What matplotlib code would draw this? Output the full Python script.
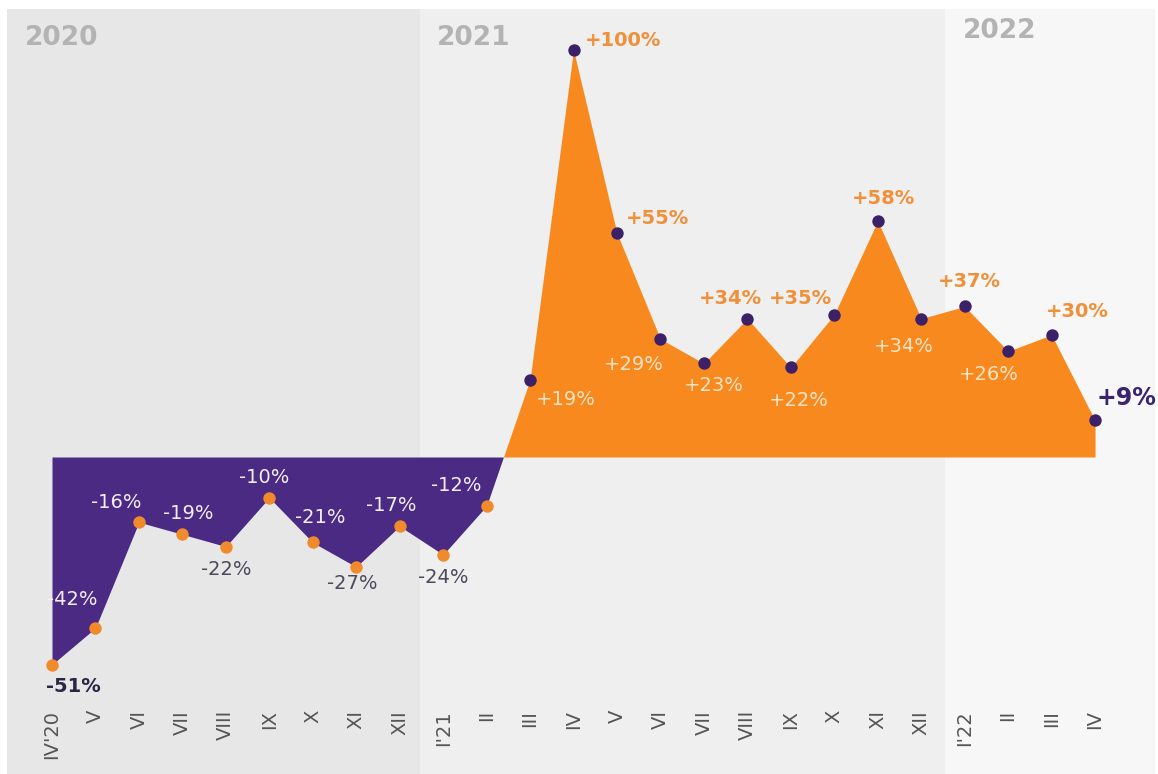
import matplotlib
matplotlib.use("Agg")
import matplotlib.pyplot as plt

# ---------------- data ----------------
months = ["IV'20", "V", "VI", "VII", "VIII", "IX", "X", "XI", "XII",
          "I'21", "II", "III", "IV", "V", "VI", "VII", "VIII", "IX", "X", "XI", "XII",
          "I'22", "II", "III", "IV"]
values = [-51, -42, -16, -19, -22, -10, -21, -27, -17, -24, -12,
          19, 100, 55, 29, 23, 34, 22, 35, 58, 34, 37, 26, 30, 9]
years = ["2020", "2021", "2022"]

# ---------------- layout / styles ----------------
W, H = 1158, 774
fig = plt.figure(figsize=(W / 100, H / 100), dpi=100)
ax = fig.add_axes([0, 0, 1, 1])

x0_pix, dx_pix = 52, 43.46
zero_pix, scale = 457, 4.07
ax.set_xlim(-x0_pix / dx_pix, (W - x0_pix) / dx_pix)
ax.set_ylim(-(H - zero_pix) / scale, zero_pix / scale)

def px_to_x(p):
    return (p - x0_pix) / dx_pix

# year bands
band_edges = [7, 420, 945, 1155]
band_colors = ["#e7e7e7", "#efefef", "#f7f7f7"]
top_frac = 1 - 9 / H
for i in range(3):
    ax.axvspan(px_to_x(band_edges[i]), px_to_x(band_edges[i + 1]),
               ymin=0, ymax=top_frac, color=band_colors[i], lw=0, zorder=0)

# year labels
year_pos = [(25, 38), (437, 38), (963, 31)]
for y, (px, py) in zip(years, year_pos):
    fig.text(px / W, 1 - py / H, y, fontsize=19, fontweight="bold",
             color="#b3b3b3", ha="left", va="center", family="DejaVu Sans")

xs = list(range(len(values)))
purple = "#4b2a83"
orange = "#f7891f"
ax.fill_between(xs, values, 0, where=[v <= 0 for v in values],
                interpolate=True, color=purple, lw=0, zorder=2)
ax.fill_between(xs, values, 0, where=[v >= 0 for v in values],
                interpolate=True, color=orange, lw=0, zorder=2)

# dots
neg = [i for i, v in enumerate(values) if v < 0]
pos = [i for i, v in enumerate(values) if v > 0]
ax.scatter([xs[i] for i in neg], [values[i] for i in neg], s=80,
           color="#f08a2a", zorder=4, lw=0)
ax.scatter([xs[i] for i in pos], [values[i] for i in pos], s=80,
           color="#3c2068", zorder=4, lw=0)

# value labels: offsets (pixels) and styles
offsets = [(21, -22), (-23, 28), (-23, 20), (6, 21), (0, -23), (-5, 20),
           (7, 25), (-4, -17), (-8, 21), (0, -23), (-30, 20),
           (36, -20), (50, 10), (41, 15), (-27, -26), (10, -22), (-17, 20),
           (8, -33), (-34, 16), (6, 22), (-17, -28), (5, 25), (-19, -23),
           (26, 23), (31, 22)]
styles = ["dark", "white", "white", "white", "under", "white", "white", "under",
          "white", "under", "white",
          "light", "orange", "orange", "light", "light", "orange", "light",
          "orange", "orange", "light", "orange", "light", "orange", "end"]
style_map = {
    "dark": dict(color="#2c2546", fontweight="bold", fontsize=14),
    "white": dict(color="#f3eef7", fontweight="normal", fontsize=14),
    "under": dict(color="#4a4a5c", fontweight="normal", fontsize=14),
    "orange": dict(color="#f0903a", fontweight="bold", fontsize=14),
    "light": dict(color="#fde3c4", fontweight="normal", fontsize=14),
    "end": dict(color="#3a2470", fontweight="bold", fontsize=17),
}
for i, v in enumerate(values):
    lab = f"{v:+d}%"
    ax.annotate(lab, (xs[i], v), xytext=offsets[i], textcoords="offset pixels",
                ha="center", va="center", zorder=5, family="DejaVu Sans",
                **style_map[styles[i]])

# month tick labels
ax.set_xticks(xs)
ax.set_xticklabels(months, rotation=90, fontsize=14, color="#555555",
                   family="DejaVu Sans")
ax.tick_params(axis="x", length=0, pad=-(H - 710) * 0.72)
ax.set_yticks([])
for s in ax.spines.values():
    s.set_visible(False)

fig.savefig("out.png", dpi=100, facecolor="white")
